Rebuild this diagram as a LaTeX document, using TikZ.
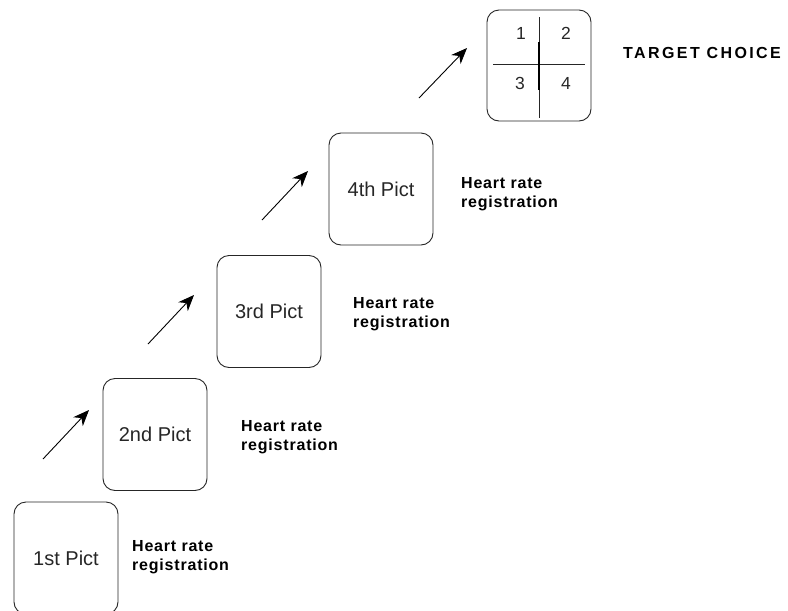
\documentclass[tikz,border=0pt]{standalone}
\usepackage{fontspec}
\setmainfont{Liberation Sans}
\newfontfamily\hrfont[LetterSpace=5]{Liberation Sans Bold}
\newfontfamily\tgfont[LetterSpace=15]{Liberation Sans Bold}
\usetikzlibrary{arrows.meta}
\begin{document}
\begin{tikzpicture}[x=1pt,y=-1pt,
  pict/.style={draw=black!85,line width=0.9pt,rounded corners=12pt,
    minimum width=104pt,minimum height=112pt,inner sep=0pt,
    font=\fontsize{20}{24}\selectfont,text=black!85},
  hr/.style={anchor=north west,inner sep=0pt,align=left,
    font=\hrfont\fontsize{16}{19.5}\selectfont},
  num/.style={inner sep=0pt,font=\fontsize{17.5}{20}\selectfont,text=black!85},
  flow/.style={line width=0.9pt,-{Stealth[length=16pt,width=13pt,inset=5pt]}}]
\useasboundingbox (0,0) rectangle (788,611);

% picture boxes
\node[pict] (p1) at (66,558) {1st Pict};
\node[pict] (p2) at (155,434.5) {2nd Pict};
\node[pict] (p3) at (269,311.5) {3rd Pict};
\node[pict] (p4) at (381,189) {4th Pict};
\node[pict,minimum height=111pt] (tg) at (539,65.5) {};

% quadrant grid inside the target box
\coordinate (gl) at (493,64);
\coordinate (gr) at (585,64);
\coordinate (gt) at (539,17);
\coordinate (gb) at (539,118);
\coordinate (mt) at (538.7,42);
\coordinate (mb) at (538.7,90);
\draw[line width=0.9pt,black!85] (gl) -- (gr);
\draw[line width=0.9pt,black!85] (gt) -- (gb);
\draw[line width=2pt] (mt) -- (mb);
\node[num] (n1) at (521,33) {1};
\node[num] (n2) at (566,33) {2};
\node[num] (n3) at (520,83) {3};
\node[num] (n4) at (566,83) {4};

\node[anchor=base west,inner sep=0pt,font=\tgfont\fontsize{16}{18}\selectfont]
  (tc) at (623,58.3) {TARGET CHOICE};

% heart rate labels
\node[hr] (h1) at (132,540) {Heart rate\\registration};
\node[hr] (h2) at (241,420) {Heart rate\\registration};
\node[hr] (h3) at (353,297) {Heart rate\\registration};
\node[hr] (h4) at (461,177) {Heart rate\\registration};

% arrows between the steps
\coordinate (a1s) at (43,459);  \coordinate (a1e) at (89,410);
\coordinate (a2s) at (148,344); \coordinate (a2e) at (194,295);
\coordinate (a3s) at (262,220); \coordinate (a3e) at (308,171);
\coordinate (a4s) at (419,98);  \coordinate (a4e) at (467,48);
\draw[flow] (a1s) -- (a1e);
\draw[flow] (a2s) -- (a2e);
\draw[flow] (a3s) -- (a3e);
\draw[flow] (a4s) -- (a4e);
\end{tikzpicture}
\end{document}
